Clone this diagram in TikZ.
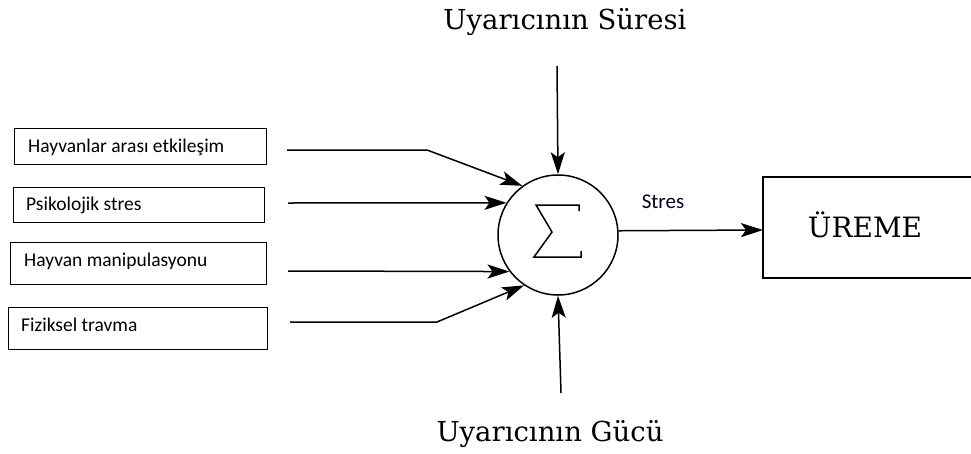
\documentclass[tikz,border=0pt]{standalone}
\usepackage{fontspec}
\setmainfont{DejaVu Serif}
\newfontfamily\boxfont{Carlito}
\usetikzlibrary{arrows.meta}
\begin{document}
\begin{tikzpicture}[x=1pt,y=-1pt,
  inbox/.style={draw,line width=0.9pt,inner sep=0pt},
  boxtext/.style={anchor=west,font=\boxfont\fontsize{19.5}{22}\selectfont,inner sep=0pt},
  arr/.style={line width=1.5pt,-{Stealth[length=22pt,width=14pt,inset=5pt]}},
  title/.style={font=\fontsize{27.5}{32}\selectfont,inner sep=0pt,anchor=base}]
\useasboundingbox (0,0) rectangle (971,453);
% left boxes
\draw[inbox] (14,128) rectangle (266,164);
\draw[inbox] (13,187) rectangle (264,222);
\draw[inbox] (10,242) rectangle (266,284);
\draw[inbox] (8,307) rectangle (267,349);
\node[boxtext] (t1) at (28,147) {Hayvanlar arası etkileşim};
\node[boxtext] (t2) at (26,205) {Psikolojik stres};
\node[boxtext] (t3) at (24,261) {Hayvan manipulasyonu};
\node[boxtext] (t4) at (21,325) {Fiziksel travma};
% summing circle
\node[draw,circle,line width=1.5pt,minimum size=120pt,inner sep=0pt] (sum) at (558,235) {};
\draw[line width=1.5pt,line join=miter] (579,211) -- (579,205) -- (536,205) -- (552,232) -- (534,257) -- (581,257) -- (581,251);
% input lines
\coordinate (a1) at (287,150);
\coordinate (b1) at (427,150);
\coordinate (a2) at (288,203);
\coordinate (a3) at (288,271);
\coordinate (a4) at (290,322);
\coordinate (b4) at (437,322);
\draw[arr] (a1) -- (b1) -- (sum.126);
\draw[arr] (a2) -- (sum.148);
\draw[arr] (a3) -- (sum.217);
\draw[arr] (a4) -- (b4) -- (sum.236);
% top and bottom inputs
\coordinate (tp) at (557,66);
\coordinate (bt) at (561,393);
\draw[arr] (tp) -- (sum.north);
\draw[arr] (bt) -- (sum.south);
\node[title] (ts) at (565,29) {Uyarıcının Süresi};
\node[title] (tg) at (550,441) {Uyarıcının Gücü};
% output
\draw[line width=1.6pt] (971,177) -- (763,177) -- (763,278) -- (971,278);
\coordinate (out) at (763,230);
\draw[arr] (sum.4.8) -- (out);
\node[font=\boxfont\fontsize{21}{24}\selectfont,text=black!85!blue,inner sep=0pt] (st) at (663,202) {Stres};
\node[font=\fontsize{28}{32}\selectfont,inner sep=0pt,anchor=base] (ur) at (865,237) {ÜREME};
\end{tikzpicture}
\end{document}
